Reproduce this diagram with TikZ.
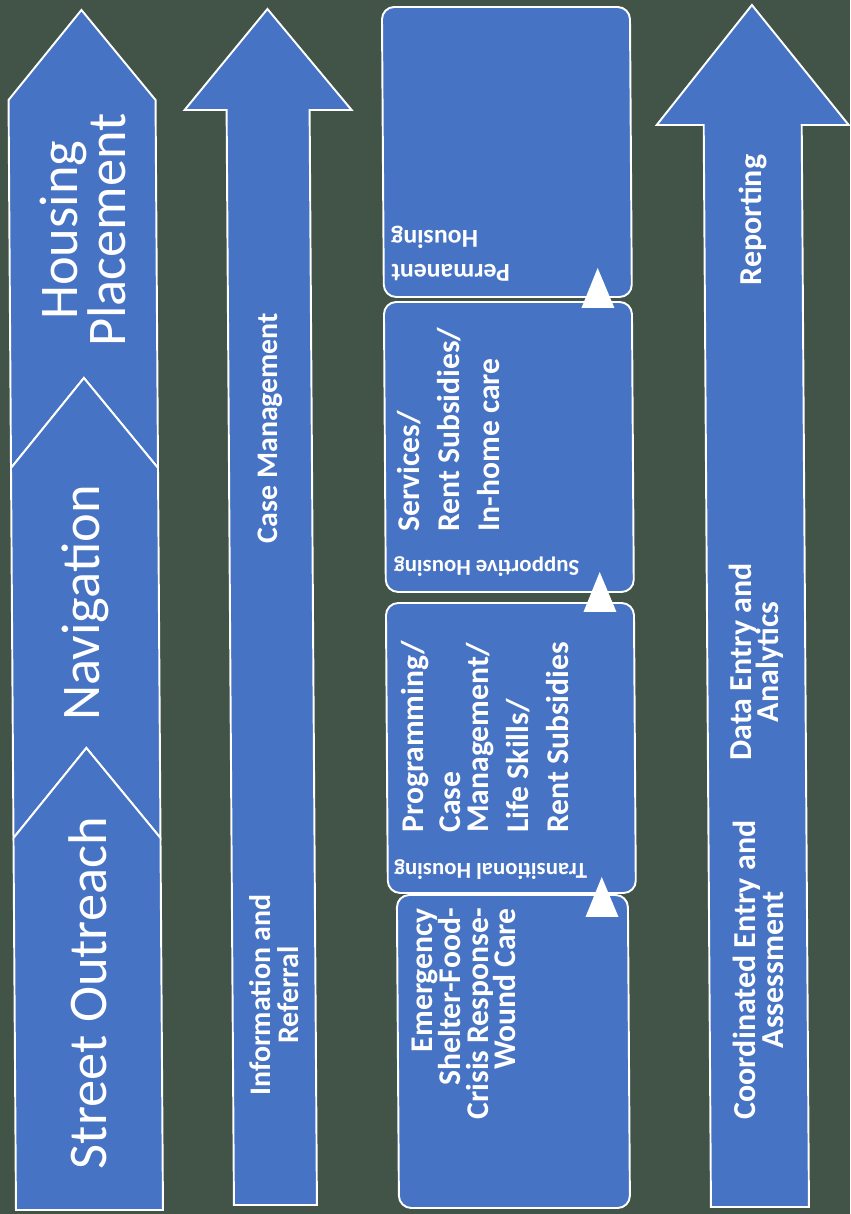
\documentclass[tikz,border=0pt]{standalone}
\usepackage{fontspec}
\setmainfont{Carlito}
\definecolor{slide}{RGB}{66,83,71}
\definecolor{panel}{RGB}{70,115,196}

\begin{document}
\begin{tikzpicture}[x=0.02cm,y=0.02cm,
  shp/.style={fill=panel,draw=white,line width=1.1pt,line join=miter},
  boxshp/.style={shp,rounded corners=7pt},
  bigtxt/.style={text=white,font=\fontsize{31}{27}\selectfont,rotate=90,align=center,inner sep=0pt},
  armtxt/.style={text=white,font=\fontsize{17}{15.9}\selectfont\bfseries,rotate=90,align=center,inner sep=0pt},
  reptxt/.style={armtxt,font=\fontsize{18.2}{15.9}\selectfont\bfseries},
  boxtxt/.style={text=white,font=\fontsize{18}{15.9}\selectfont\bfseries,rotate=90,inner sep=0pt},
  ttltxt/.style={text=white,font=\fontsize{13}{19}\selectfont\bfseries,rotate=180,align=right,inner sep=0pt}]
% ---------- background ----------
\fill[slide] (0,0) rectangle (850,1214);
\useasboundingbox (0,0) rectangle (850,1214);
% the whole slide leans a little
\begin{scope}[xslant=-0.0067]
% ---------- chevron column ----------
\draw[shp] (16,1114) -- (89.5,1204) -- (163,1114) -- (163,746) -- (89.5,836) -- (16,746) -- cycle;
\draw[shp] (16,746) -- (89.5,836) -- (163,746) -- (163,376) -- (89.5,466) -- (16,376) -- cycle;
\draw[shp] (16,376) -- (89.5,466) -- (163,376) -- (163,4) -- (16,4) -- cycle;
\node[bigtxt] (place) at (89.5,984) {Housing\\Placement};
\node[bigtxt] (navig) at (89.5,611) {Navigation};
\node[bigtxt] (street) at (89.5,221) {Street Outreach};
% ---------- case management arrow ----------
\draw[shp] (234,9) -- (234,1104) -- (192,1104) -- (275.5,1205) -- (359,1104)
  -- (317,1104) -- (317,9) -- cycle;
\node[armtxt] (casem) at (275.5,786) {Case Management};
\node[armtxt] (inforef) at (275.5,219) {Information and\\Referral};
% ---------- housing boxes ----------
\draw[boxshp] (390,917) rectangle (638,1207);
\draw[boxshp] (390,622) rectangle (638,912);
\draw[boxshp] (390,321) rectangle (638,611);
\draw[boxshp] (399,6) rectangle (630,319);
% small white steps between boxes
\fill[white] (587.5,906) -- (604,946) -- (620.5,906) -- cycle;
\fill[white] (587.5,602) -- (604,642) -- (620.5,602) -- cycle;
\fill[white] (587.5,297) -- (604,337) -- (620.5,297) -- cycle;
% titles, upside down
\node[ttltxt,font=\fontsize{14.7}{19.3}\selectfont\bfseries] (permt) at (457,960) {Permanent\\Housing};
\node[ttltxt] (suppt) at (491,647) {Supportive Housing};
\node[ttltxt] (trant) at (493,344) {Transitional Housing};
% box contents
\node[boxtxt,align=left,anchor=west] (suppl) at (453,682)
  {Services/\\[6.8pt]Rent Subsidies/\\[6.8pt]In-home care};
\node[boxtxt,align=left,anchor=west] (tranl) at (488,381)
  {Programming/\\[5pt]Case\\Management/\\[7pt]Life Skills/\\[7pt]Rent Subsidies};
\node[boxtxt,align=right,anchor=east] (emerl) at (466,306)
  {Emergency\\Shelter-Food-\\Crisis Response-\\Wound Care};
% ---------- reporting arrow ----------
\draw[shp] (711,7) -- (711,1089) -- (664,1089) -- (760,1209) -- (856,1089)
  -- (809,1089) -- (809,7) -- cycle;
\node[reptxt] (report) at (760,994) {Reporting};
\node[reptxt] (dataent) at (760,552) {Data Entry and\\Analytics};
\node[reptxt] (coord) at (760,244) {Coordinated Entry and\\Assessment};
\end{scope}
\end{tikzpicture}
\end{document}
